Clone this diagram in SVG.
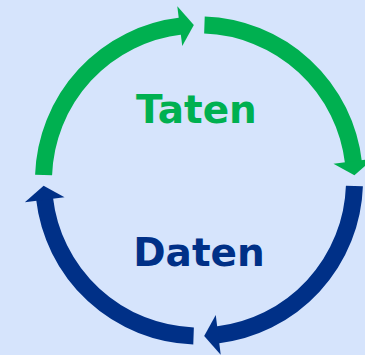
<svg xmlns="http://www.w3.org/2000/svg" width="365" height="355" viewBox="0 0 365 355">
  <style>
    .label { font-family: "DejaVu Sans", Verdana, sans-serif; font-weight: bold; font-size: 39px; text-anchor: middle; }
  </style>
  <defs>
    <g id="quarter">
      <path d="M 43.59 175.07 A 155.5 155.5 0 0 1 181.13 26.03" fill="none" stroke="currentColor" stroke-width="17" stroke-linecap="butt"/>
      <polygon points="177.31,6.34 193.84,25.09 182.25,46.04" fill="currentColor"/>
    </g>
  </defs>
  <rect x="0" y="0" width="365" height="355" fill="#d6e4fc"/>
  <g id="connectors">
    <g id="arrow-left-top" color="#00b050"><use href="#quarter"/></g>
    <g id="arrow-top-right" color="#00b050"><use href="#quarter" transform="rotate(90 199 180.5)"/></g>
    <g id="arrow-right-bottom" color="#003087"><use href="#quarter" transform="rotate(180 199 180.5)"/></g>
    <g id="arrow-bottom-left" color="#003087"><use href="#quarter" transform="rotate(270 199 180.5)"/></g>
  </g>
  <g id="taten">
    <text class="label" x="196.5" y="123" fill="#00b050">Taten</text>
  </g>
  <g id="daten">
    <text class="label" x="199" y="266" fill="#003087">Daten</text>
  </g>
</svg>
